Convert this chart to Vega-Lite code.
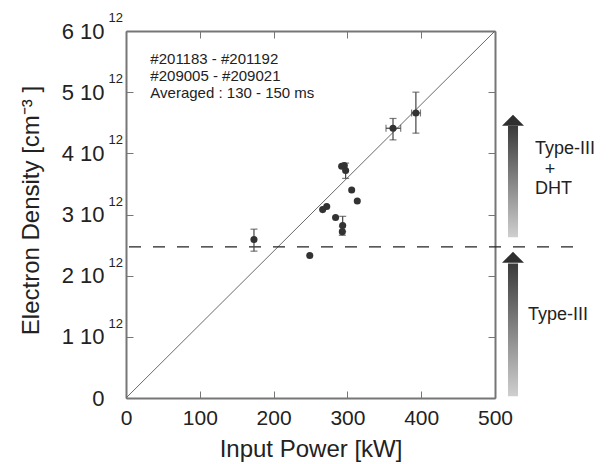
{
  "$schema": "https://vega.github.io/schema/vega-lite/v6.json",
  "width": 369,
  "height": 367,
  "autosize": {"type": "none"},
  "padding": {"left": 126, "top": 31, "right": 116, "bottom": 66},
  "background": "white",
  "config": {
    "view": {"stroke": null},
    "font": "Liberation Sans",
    "axis": {
      "grid": false,
      "domainColor": "#767676",
      "domainWidth": 2,
      "tickColor": "#767676",
      "tickWidth": 1,
      "tickSize": -7,
      "labelFont": "Liberation Sans",
      "labelFontSize": 21,
      "labelColor": "#222222",
      "titleFont": "Liberation Sans",
      "titleFontSize": 24,
      "titleFontWeight": "normal",
      "titleColor": "#222222"
    }
  },
  "datasets": {
    "diag": [{"p": 0, "n": 0}, {"p": 500, "n": 6}],
    "thresh": [{"p": 0, "p2": 615, "n": 2.47}],
    "pts": [
      {"p": 173.4, "n": 2.59, "lo": 2.40, "hi": 2.76},
      {"p": 249, "n": 2.33},
      {"p": 266.5, "n": 3.08},
      {"p": 272, "n": 3.13},
      {"p": 284, "n": 2.95},
      {"p": 293.6, "n": 2.82, "lo": 2.72, "hi": 2.97},
      {"p": 293.1, "n": 2.72, "lo": 2.66, "hi": 2.80},
      {"p": 292.2, "n": 3.79},
      {"p": 295.8, "n": 3.80},
      {"p": 297.6, "n": 3.72, "lo": 3.59, "hi": 3.84},
      {"p": 305.8, "n": 3.40},
      {"p": 313.4, "n": 3.22},
      {"p": 361.8, "n": 4.41, "lo": 4.22, "hi": 4.57, "plo": 352.3, "phi": 372.2},
      {"p": 392.8, "n": 4.66, "lo": 4.33, "hi": 5.00, "plo": 387, "phi": 399}
    ],
    "sup": [{"n": 1}, {"n": 2}, {"n": 3}, {"n": 4}, {"n": 5}, {"n": 6}],
    "notes": [
      {"p": 33, "n": 5.46, "t": "#201183 - #201192"},
      {"p": 33, "n": 5.19, "t": "#209005 - #209021"},
      {"p": 33, "n": 4.90, "t": "Averaged : 130 - 150 ms"}
    ],
    "shafts": [
      {"p1": 517.6, "p2": 531.2, "n1": 0.03, "n2": 2.20},
      {"p1": 517.6, "p2": 531.2, "n1": 2.63, "n2": 4.45}
    ],
    "heads": [{"p": 524.4, "n": 2.30}, {"p": 524.4, "n": 4.54}],
    "labels": [
      {"p": 554.2, "n": 3.99, "t": "Type-III"},
      {"p": 567.4, "n": 3.64, "t": "+"},
      {"p": 554.2, "n": 3.34, "t": "DHT"},
      {"p": 544.7, "n": 1.27, "t": "Type-III"}
    ]
  },
  "resolve": {"axis": {"x": "independent", "y": "independent"}},
  "layer": [
    {
      "data": {"name": "diag"},
      "mark": {"type": "line", "color": "#6a6a6a", "strokeWidth": 1},
      "encoding": {
        "x": {"field": "p", "type": "quantitative", "scale": {"domain": [0, 500], "nice": false, "zero": false},
          "axis": {"orient": "bottom", "values": [0, 100, 200, 300, 400, 500], "labelPadding": 16, "title": "Input Power [kW]", "titleX": 184.5, "titleY": 51, "titleBaseline": "middle", "labelFlush": false}},
        "y": {"field": "n", "type": "quantitative", "scale": {"domain": [0, 6], "nice": false, "zero": false},
          "axis": {"orient": "left", "values": [0, 1, 2, 3, 4, 5, 6], "labelPadding": 29, "labelFontSize": 22, "labelExpr": "datum.value == 0 ? '0' : datum.value + ' 10'", "title": "Electron Density [cm⁻³ ]", "titleX": -95, "titleY": 179, "titleBaseline": "middle", "titleAngle": -90, "labelFlush": false}}
      }
    },
    {
      "data": {"name": "thresh"},
      "mark": {"type": "rule", "color": "#222222", "strokeWidth": 1.2, "strokeDash": [12, 12], "strokeDashOffset": -3},
      "encoding": {
        "x": {"field": "p", "type": "quantitative", "scale": {"domain": [0, 500], "nice": false, "zero": false},
          "axis": {"orient": "top", "values": [0, 100, 200, 300, 400, 500], "labels": false, "title": null}},
        "x2": {"field": "p2"},
        "y": {"field": "n", "type": "quantitative", "scale": {"domain": [0, 6], "nice": false, "zero": false},
          "axis": {"orient": "right", "values": [0, 1, 2, 3, 4, 5, 6], "labels": false, "title": null}}
      }
    },
    {
      "data": {"name": "pts"},
      "mark": {"type": "rule", "color": "#444444", "strokeWidth": 1.2},
      "encoding": {
        "x": {"field": "p", "type": "quantitative", "scale": {"domain": [0, 500], "nice": false, "zero": false}, "axis": null},
        "y": {"field": "lo", "type": "quantitative", "scale": {"domain": [0, 6], "nice": false, "zero": false}, "axis": null},
        "y2": {"field": "hi"}
      }
    },
    {
      "data": {"name": "pts"},
      "mark": {"type": "rule", "color": "#444444", "strokeWidth": 1.2},
      "encoding": {
        "x": {"field": "plo", "type": "quantitative", "scale": {"domain": [0, 500], "nice": false, "zero": false}, "axis": null},
        "x2": {"field": "phi"},
        "y": {"field": "n", "type": "quantitative", "scale": {"domain": [0, 6], "nice": false, "zero": false}, "axis": null}
      }
    },
    {
      "data": {"name": "pts"},
      "mark": {"type": "tick", "orient": "horizontal", "color": "#444444", "thickness": 1.2, "size": 7},
      "encoding": {
        "x": {"field": "p", "type": "quantitative", "scale": {"domain": [0, 500], "nice": false, "zero": false}, "axis": null},
        "y": {"field": "lo", "type": "quantitative", "scale": {"domain": [0, 6], "nice": false, "zero": false}, "axis": null}
      }
    },
    {
      "data": {"name": "pts"},
      "mark": {"type": "tick", "orient": "horizontal", "color": "#444444", "thickness": 1.2, "size": 7},
      "encoding": {
        "x": {"field": "p", "type": "quantitative", "scale": {"domain": [0, 500], "nice": false, "zero": false}, "axis": null},
        "y": {"field": "hi", "type": "quantitative", "scale": {"domain": [0, 6], "nice": false, "zero": false}, "axis": null}
      }
    },
    {
      "data": {"name": "pts"},
      "mark": {"type": "tick", "orient": "vertical", "color": "#444444", "thickness": 1.2, "size": 7},
      "encoding": {
        "x": {"field": "plo", "type": "quantitative", "scale": {"domain": [0, 500], "nice": false, "zero": false}, "axis": null},
        "y": {"field": "n", "type": "quantitative", "scale": {"domain": [0, 6], "nice": false, "zero": false}, "axis": null}
      }
    },
    {
      "data": {"name": "pts"},
      "mark": {"type": "tick", "orient": "vertical", "color": "#444444", "thickness": 1.2, "size": 7},
      "encoding": {
        "x": {"field": "phi", "type": "quantitative", "scale": {"domain": [0, 500], "nice": false, "zero": false}, "axis": null},
        "y": {"field": "n", "type": "quantitative", "scale": {"domain": [0, 6], "nice": false, "zero": false}, "axis": null}
      }
    },
    {
      "data": {"name": "pts"},
      "mark": {"type": "point", "filled": true, "shape": "circle", "color": "#333333", "opacity": 1, "size": 50},
      "encoding": {
        "x": {"field": "p", "type": "quantitative", "scale": {"domain": [0, 500], "nice": false, "zero": false}, "axis": null},
        "y": {"field": "n", "type": "quantitative", "scale": {"domain": [0, 6], "nice": false, "zero": false}, "axis": null}
      }
    },
    {
      "data": {"name": "sup"},
      "mark": {"type": "text", "align": "right", "baseline": "middle", "dx": -3, "dy": -13, "fontSize": 13, "color": "#222222", "text": "12"},
      "encoding": {
        "x": {"datum": 0, "type": "quantitative", "scale": {"domain": [0, 500], "nice": false, "zero": false}, "axis": null},
        "y": {"field": "n", "type": "quantitative", "scale": {"domain": [0, 6], "nice": false, "zero": false}, "axis": null}
      }
    },
    {
      "data": {"name": "notes"},
      "mark": {"type": "text", "align": "left", "baseline": "alphabetic", "fontSize": 15, "color": "#222222"},
      "encoding": {
        "x": {"field": "p", "type": "quantitative", "scale": {"domain": [0, 500], "nice": false, "zero": false}, "axis": null},
        "y": {"field": "n", "type": "quantitative", "scale": {"domain": [0, 6], "nice": false, "zero": false}, "axis": null},
        "text": {"field": "t"}
      }
    },
    {
      "data": {"name": "shafts"},
      "mark": {"type": "rect", "fill": {"gradient": "linear", "x1": 0, "y1": 0, "x2": 0, "y2": 1, "stops": [{"offset": 0, "color": "#3a3a3a"}, {"offset": 1, "color": "#cfcfcf"}]}},
      "encoding": {
        "x": {"field": "p1", "type": "quantitative", "scale": {"domain": [0, 500], "nice": false, "zero": false}, "axis": null},
        "x2": {"field": "p2"},
        "y": {"field": "n1", "type": "quantitative", "scale": {"domain": [0, 6], "nice": false, "zero": false}, "axis": null},
        "y2": {"field": "n2"}
      }
    },
    {
      "data": {"name": "heads"},
      "mark": {"type": "point", "filled": true, "opacity": 1, "color": "#2f2f2f", "shape": "M -1 0.5 L 0 -0.5 L 1 0.5 Z", "size": 484},
      "encoding": {
        "x": {"field": "p", "type": "quantitative", "scale": {"domain": [0, 500], "nice": false, "zero": false}, "axis": null},
        "y": {"field": "n", "type": "quantitative", "scale": {"domain": [0, 6], "nice": false, "zero": false}, "axis": null}
      }
    },
    {
      "data": {"name": "labels"},
      "mark": {"type": "text", "align": "left", "baseline": "alphabetic", "fontSize": 18, "color": "#222222"},
      "encoding": {
        "x": {"field": "p", "type": "quantitative", "scale": {"domain": [0, 500], "nice": false, "zero": false}, "axis": null},
        "y": {"field": "n", "type": "quantitative", "scale": {"domain": [0, 6], "nice": false, "zero": false}, "axis": null},
        "text": {"field": "t"}
      }
    }
  ]
}
